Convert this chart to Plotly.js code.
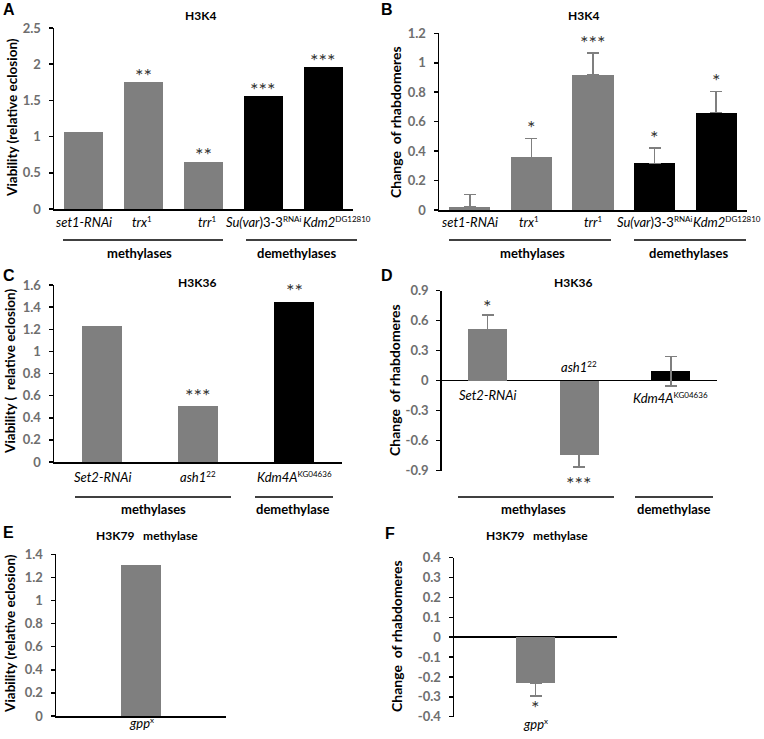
<!DOCTYPE html>
<html><head><meta charset="utf-8">
<script src="https://cdn.plot.ly/plotly-3.0.1.min.js"></script>
<style>html,body{margin:0;padding:0;background:#fff}</style>
</head><body><div id="chart" style="width:764px;height:739px"></div>
<script>
// ---------------- DATA ----------------
const SUP = t => '<sup><span style="font-size:8px">' + t + '</span></sup>';
// Panel A: H3K4 viability
const aCats = ['<i>set1-RNAi</i>', '<i>trx</i>' + SUP('1'), '<i>trr</i>' + SUP('1'), '<i>Su(var</i>)3-3' + SUP('RNAi'), '<i>Kdm2</i>' + SUP('DG12810')];
const aGroup = ['m', 'm', 'm', 'd', 'd'];
const aVals = [1.07, 1.75, 0.65, 1.555, 1.955];
const aStars = ['', '**', '**', '***', '***'];
// Panel B: H3K4 change of rhabdomeres
const bCats = aCats;
const bGroup = aGroup;
const bVals = [0.023, 0.357, 0.918, 0.316, 0.661];
const bErr = [0.082, 0.13, 0.148, 0.105, 0.145];
const bStars = ['', '*', '***', '*', '*'];
// Panel C: H3K36 viability
const cCats = ['<i>Set2-RNAi</i>', '<i>ash1</i>' + SUP('22'), '<i>Kdm4A</i>' + SUP('KG04636')];
const cGroup = ['m', 'm', 'd'];
const cVals = [1.225, 0.505, 1.448];
const cStars = ['', '***', '**'];
// Panel D: H3K36 change of rhabdomeres
const dCats = cCats;
const dGroup = cGroup;
const dVals = [0.515, -0.745, 0.095];
const dErr = [0.14, 0.118, 0.146];
const dStars = ['*', '***', ''];
const dTicks = [-0.9, -0.6, -0.3, 0, 0.3, 0.6, 0.9];
// Panel E: H3K79 methylase viability
const eCats = ['<i>gpp</i>' + SUP('x')];
const eVals = [1.31];
// Panel F: H3K79 methylase change of rhabdomeres
const fCats = eCats;
const fVals = [-0.232];
const fErr = [0.064];
const fStars = ['*'];
const fTicks = [-0.4, -0.3, -0.2, -0.1, 0, 0.1, 0.2, 0.3, 0.4];

// ---------------- STYLE / LAYOUT ----------------
const W = 764, H = 739;
const px = x => x / W;
const py = y => 1 - y / H;
const GRAY = '#7f7f7f', BLACK = '#000000';
const FAM = 'Lato, "Open Sans", sans-serif';
const colorOf = g => (g === 'm' ? GRAY : BLACK);
const idx = arr => arr.map((_, i) => i);

function xax(x0, x1, n, showline) {
  return {domain: [px(x0), px(x1)], range: [-0.5, n - 0.5], showgrid: false, zeroline: false,
    showticklabels: false, ticks: '', showline: showline, linecolor: '#000', linewidth: 1.5, fixedrange: true};
}
function yax(yTop, yBot, range, dtick, xa, extra) {
  return Object.assign({domain: [py(yBot), py(yTop)], range: range, dtick: dtick, showgrid: false,
    zeroline: false, showline: true, linecolor: '#000', linewidth: 1.5, ticks: 'outside', ticklen: 4,
    tickwidth: 1.5, tickcolor: '#000', ticklabelstandoff: 5, anchor: xa,
    tickfont: {family: FAM, size: 13, color: '#6e6e6e', weight: 'bold'}}, extra || {});
}

const ebStyle = {color: '#7f7f7f', thickness: 1.5, width: 6};
const traces = [
  {type: 'bar', x: idx(aCats), y: aVals, xaxis: 'x', yaxis: 'y', width: 0.65,
   marker: {color: aGroup.map(colorOf)}},
  {type: 'bar', x: idx(bCats), y: bVals, xaxis: 'x2', yaxis: 'y2', width: 0.67,
   marker: {color: bGroup.map(colorOf)},
   error_y: Object.assign({type: 'data', symmetric: false, array: bErr, arrayminus: bErr.map(() => 0)}, ebStyle)},
  {type: 'bar', x: idx(cCats), y: cVals, xaxis: 'x3', yaxis: 'y3', width: 0.42,
   marker: {color: cGroup.map(colorOf)}},
  {type: 'bar', x: idx(dCats), y: dVals, xaxis: 'x4', yaxis: 'y4', width: 0.425,
   marker: {color: dGroup.map(colorOf)},
   error_y: Object.assign({type: 'data', array: dErr}, ebStyle)},
  {type: 'bar', x: idx(eCats), y: eVals, xaxis: 'x5', yaxis: 'y5', width: 0.235,
   marker: {color: GRAY}},
  {type: 'bar', x: idx(fCats), y: fVals, xaxis: 'x6', yaxis: 'y6', width: 0.24,
   marker: {color: GRAY},
   error_y: Object.assign({type: 'data', symmetric: false, array: fErr.map(() => 0), arrayminus: fErr}, ebStyle)}
];

const ann = [];
const shapes = [];
function txt(x, y, text, size, opts) {
  ann.push(Object.assign({xref: 'paper', yref: 'paper', x: px(x), y: py(y), text: text, showarrow: false,
    xanchor: 'center', yanchor: 'middle', font: {family: FAM, size: size, color: '#000'}}, opts || {}));
}
function bold(x, y, text, size, opts) {
  txt(x, y, text, size, Object.assign({font: {family: FAM, size: size, color: '#000', weight: 'bold'}}, opts || {}));
}
function letter(x, y, t) {
  ann.push({xref: 'paper', yref: 'paper', x: px(x), y: py(y), text: t, showarrow: false, xanchor: 'center', yanchor: 'middle',
    font: {family: '"Liberation Sans", Arial, sans-serif', size: 16, color: '#000', weight: 'bold'}});
}
function ytitle(x, y, text, size) {
  bold(x, y, text, size, {textangle: -90});
}
function catLabels(xa, cats, y, shifts) {
  cats.forEach((c, i) => ann.push({xref: xa, yref: 'paper', x: i, y: py(y), text: c, showarrow: false,
    xanchor: 'center', yanchor: 'middle', xshift: shifts ? shifts[i] : 0, font: {family: FAM, size: 13, color: '#000'}}));
}
const GLYPH = 3;
function stars(xa, ya, list, tops, offs) {
  list.forEach((s, i) => {
    if (!s) return;
    ann.push({xref: xa, yref: ya, x: i, y: tops[i], text: s, showarrow: false, xanchor: 'center', yanchor: 'middle',
      yshift: offs[i] - GLYPH, font: {family: FAM, size: 20, color: '#333'}});
  });
}
function groupLine(x0, x1, y) {
  shapes.push({type: 'line', xref: 'paper', yref: 'paper', x0: px(x0), x1: px(x1), y0: py(y), y1: py(y),
    line: {color: '#000', width: 1.5}});
}

// Panel letters
letter(8.5, 9.5, 'A'); letter(387, 9.5, 'B');
letter(8.5, 275, 'C'); letter(387, 275, 'D');
letter(8, 532, 'E'); letter(390, 533, 'F');
// Panel titles
bold(200, 15, 'H3K4', 12); bold(583, 15, 'H3K4', 12);
bold(197, 282, 'H3K36', 12); bold(573, 282, 'H3K36', 12);
bold(147, 535, 'H3K79\u00a0\u00a0 methylase', 12); bold(537, 535, 'H3K79\u00a0\u00a0 methylase', 12);
// Y titles
ytitle(12, 118, 'Viability (relative eclosion)', 13.5);
ytitle(396, 122, 'Change\u00a0\u00a0of rhabdomeres', 14);
ytitle(10, 372, 'Viability (\u00a0\u00a0relative eclosion)', 13.5);
ytitle(395, 380, 'Change\u00a0\u00a0of rhabdomeres', 14);
ytitle(10, 634, 'Viability (relative eclosion)', 13.5);
ytitle(396, 636, 'Change\u00a0\u00a0of rhabdomeres', 14);

// Category labels
catLabels('x', aCats, 222, [0, -2, 4, 0, 14]);
catLabels('x2', bCats, 222, [0, -2, 0, 0, 11]);
catLabels('x3', cCats, 477);
ann.push({xref: 'x4', yref: 'paper', x: 0, y: py(395), text: dCats[0], showarrow: false, font: {family: FAM, size: 13, color: '#000'}});
ann.push({xref: 'x4', yref: 'paper', x: 1, y: py(367), text: dCats[1], showarrow: false, font: {family: FAM, size: 13, color: '#000'}});
ann.push({xref: 'x4', yref: 'paper', x: 2, y: py(398), text: dCats[2], showarrow: false, font: {family: FAM, size: 13, color: '#000'}});
catLabels('x5', eCats, 723);
catLabels('x6', fCats, 724);

// Stars
stars('x', 'y', aStars, aVals, aVals.map(() => 10.5));
stars('x2', 'y2', bStars, bVals.map((v, i) => v + bErr[i]), bVals.map(() => 14));
stars('x3', 'y3', cStars, cVals, cVals.map(() => 14.5));
stars('x4', 'y4', dStars, dVals.map((v, i) => v >= 0 ? v + dErr[i] : v - dErr[i]), dVals.map(v => v >= 0 ? 12 : -13));
stars('x6', 'y6', fStars, fVals.map((v, i) => v - fErr[i]), fVals.map(() => -8));

// Group brackets
groupLine(63, 223, 240); groupLine(246, 357, 240);
bold(139, 253, 'methylases', 13); bold(296, 253, 'demethylases', 13);
groupLine(449, 611, 240); groupLine(634, 746, 240);
bold(532, 253, 'methylases', 13); bold(688, 253, 'demethylases', 13);
groupLine(75, 231, 497); groupLine(255, 333, 497);
bold(153, 509, 'methylases', 13); bold(292, 509, 'demethylase', 13);
groupLine(458, 614, 497); groupLine(635, 713, 497);
bold(533, 509, 'methylases', 13); bold(673, 509, 'demethylase', 13);

const layout = {
  width: W, height: H, margin: {l: 0, r: 0, t: 0, b: 0}, paper_bgcolor: '#fff', plot_bgcolor: 'rgba(0,0,0,0)',
  showlegend: false, bargap: 0,
  xaxis: xax(54, 353, aCats.length, true),
  yaxis: yax(28, 209, [0, 2.5], 0.5, 'x'),
  xaxis2: xax(439, 747, bCats.length, true),
  yaxis2: yax(33.3, 210, [0, 1.2], 0.2, 'x2'),
  xaxis3: xax(54, 342, cCats.length, true),
  yaxis3: yax(285, 462, [0, 1.6], 0.2, 'x3'),
  xaxis4: xax(441.7, 716.7, dCats.length, false),
  yaxis4: yax(290.7, 470.7, [-0.9, 0.9], 0.3, 'x4', {zeroline: true, zerolinecolor: '#000', zerolinewidth: 1.5,
    tickmode: 'array', tickvals: dTicks, ticktext: dTicks.map(String)}),
  xaxis5: xax(56, 226, eCats.length, true),
  yaxis5: yax(554.3, 716, [0, 1.4], 0.2, 'x5'),
  xaxis6: xax(454, 617.3, fCats.length, false),
  yaxis6: yax(557.7, 716.7, [-0.4, 0.4], 0.1, 'x6', {zeroline: true, zerolinecolor: '#000', zerolinewidth: 1.5,
    tickmode: 'array', tickvals: fTicks, ticktext: fTicks.map(String)}),
  annotations: ann, shapes: shapes
};
['xaxis', 'xaxis2', 'xaxis3', 'xaxis4', 'xaxis5', 'xaxis6'].forEach((k, i) => { layout[k].anchor = i === 0 ? 'y' : 'y' + (i + 1); });
Plotly.newPlot('chart', traces, layout, {displayModeBar: false, staticPlot: true});
</script>
</body></html>
